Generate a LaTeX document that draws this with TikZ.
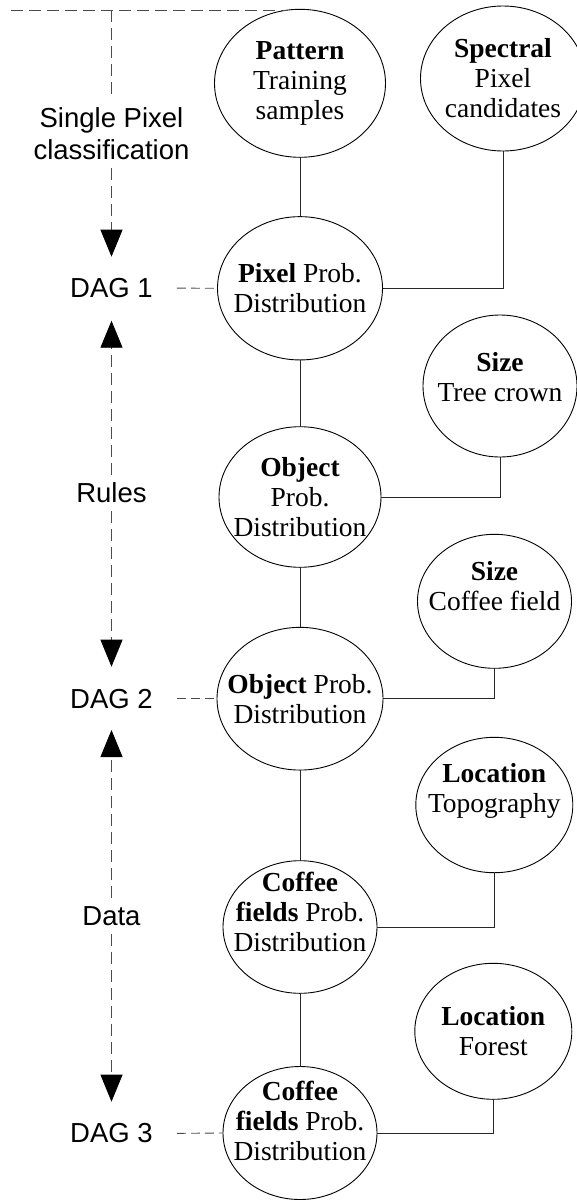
\documentclass[tikz,border=0pt]{standalone}
\usepackage{fontspec}
\setmainfont{Liberation Serif}
\setsansfont{Liberation Sans}
\usetikzlibrary{shapes.geometric,arrows.meta}

\begin{document}
\begin{tikzpicture}[x=1pt,y=-1pt,
  bub/.style={ellipse, draw=black, line width=0.9pt, inner sep=0pt, outer sep=0pt},
  txt/.style={align=center, font=\fontsize{27.5}{30}\selectfont, inner sep=0pt},
  side/.style={font=\sffamily\fontsize{27.5}{32}\selectfont, align=center,
               inner xsep=2pt, inner ysep=8pt},
  solidlink/.style={draw=black!85, line width=0.9pt},
  dashguide/.style={draw=black!70, line width=0.9pt, dash pattern=on 12pt off 6pt},
  dagdash/.style={draw=black!70, line width=0.9pt, dash pattern=on 9pt off 5pt},
  headed/.style={-{Triangle[width=22pt,length=27pt,color=black]}},
]
\clip (0,0) rectangle (577,1200);

% distribution nodes (left column) and evidence nodes (right column)
\node[bub, minimum width=171pt, minimum height=148pt,
      label={[txt]center:{\textbf{Pattern}\\Training\\samples}}] (pattern) at (300,83.3) {};
\node[bub, minimum width=165pt, minimum height=145pt,
      label={[txt]center:{\textbf{Spectral}\\Pixel\\candidates}}] (spectral) at (503,78.5) {};
\node[bub, minimum width=165pt, minimum height=143.3pt,
      label={[txt]center:{\textbf{Pixel} Prob.\\Distribution}}] (pixel) at (300,288.3) {};
\node[bub, minimum width=154pt, minimum height=142pt,
      label={[txt,yshift=9pt]center:{\textbf{Size}\\Tree crown}}] (tree) at (500,386) {};
\node[bub, minimum width=162pt, minimum height=140.6pt,
      label={[txt]center:{\textbf{Object}\\Prob.\\Distribution}}] (object1) at (300,497) {};
\node[bub, minimum width=154pt, minimum height=134pt,
      label={[txt,yshift=15pt]center:{\textbf{Size}\\Coffee field}}] (sizecf) at (494.5,601.3) {};
\node[bub, minimum width=166pt, minimum height=142.7pt,
      label={[txt]center:{\textbf{Object} Prob.\\Distribution}}] (object2) at (300,698.7) {};
\node[bub, minimum width=157pt, minimum height=135.4pt,
      label={[txt,yshift=14pt]center:{\textbf{Location}\\Topography}}] (topo) at (494.3,805) {};
\node[bub, minimum width=154pt, minimum height=132.6pt,
      label={[txt,yshift=15pt]center:{\textbf{Coffee}\\\textbf{fields} Prob.\\Distribution}}] (coffee1) at (300,927) {};
\node[bub, minimum width=157pt, minimum height=136pt,
      label={[txt]center:{\textbf{Location}\\Forest}}] (forest) at (493.3,1031.3) {};
\node[bub, minimum width=154pt, minimum height=133pt,
      label={[txt,yshift=12pt]center:{\textbf{Coffee}\\\textbf{fields} Prob.\\Distribution}}] (coffee2) at (300,1133) {};

% stage labels on the left
\node[side] (spc) at (111.5,134) {Single Pixel\\classification};
\node[side] (dag1) at (111.5,288) {DAG 1};
\node[side] (rules) at (111.5,493) {Rules};
\node[side] (dag2) at (111.5,698.7) {DAG 2};
\node[side] (data) at (111.5,916) {Data};
\node[side] (dag3) at (111.5,1133.5) {DAG 3};

\coordinate (corner) at (11,10);
\coordinate (guidetop) at (111.5,10);
\coordinate (down1) at (111.5,256.7);
\coordinate (up1) at (111.5,320.7);
\coordinate (down2) at (111.5,666.7);
\coordinate (up2) at (111.5,730);
\coordinate (down3) at (111.5,1101.7);

% dashed guide with stage arrows
\draw[dashguide] (corner) -- (corner -| pattern.100);
\draw[dashguide] (guidetop) -- (spc.north);
\draw[dashguide, headed] (spc.south) -- (down1);
\draw[dashguide, headed] (rules.north) -- (up1);
\draw[dashguide, headed] (rules.south) -- (down2);
\draw[dashguide, headed] (data.north) -- (up2);
\draw[dashguide, headed] (data.south) -- (down3);

\draw[dagdash, shorten <=22pt] (dag1.east) -- (pixel.west);
\draw[dagdash, shorten <=22pt] (dag2.east) -- (object2.west);
\draw[dagdash, shorten <=22pt] (dag3.east) -- (coffee2.west);

% main chain
\draw[solidlink] (pattern) -- (pixel);
\draw[solidlink] (pixel) -- (object1);
\draw[solidlink] (object1) -- (object2);
\draw[solidlink] (object2) -- (coffee1);
\draw[solidlink] (coffee1) -- (coffee2);

% evidence feeding each distribution
\draw[solidlink] (pixel) -| (spectral);
\draw[solidlink] (object1) -| (tree);
\draw[solidlink] (object2) -| (sizecf);
\draw[solidlink] (coffee1) -| (topo);
\draw[solidlink] (coffee2) -| (forest);
\end{tikzpicture}
\end{document}
